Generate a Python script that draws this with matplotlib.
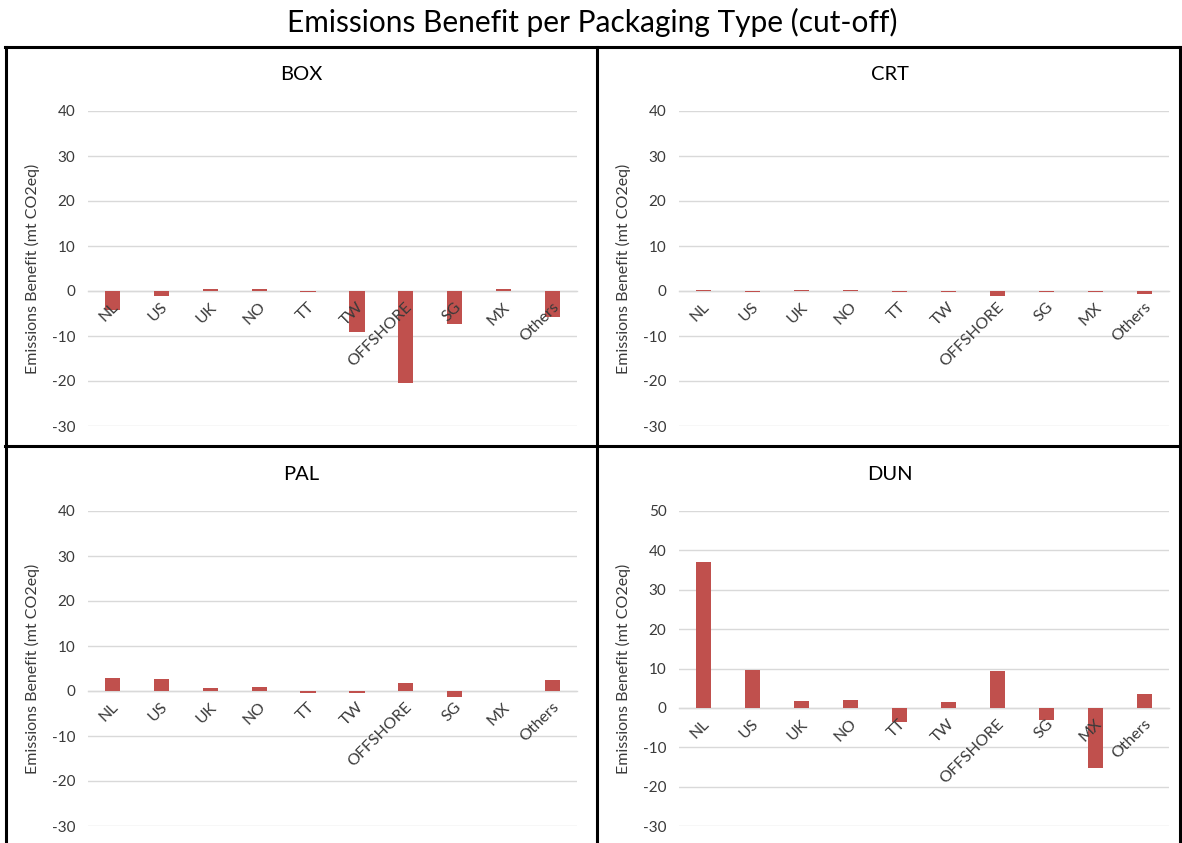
import matplotlib
matplotlib.use('Agg')
import matplotlib.pyplot as plt
from matplotlib.lines import Line2D
from matplotlib.transforms import ScaledTranslation

plt.rcParams['font.family'] = ['Lato', 'DejaVu Sans']

# データ
countries = ['NL', 'US', 'UK', 'NO', 'TT', 'TW', 'OFFSHORE', 'SG', 'MX', 'Others']
box_vals = [-4.2, -1.2, 0.4, 0.4, -0.3, -9.2, -20.4, -7.3, 0.4, -5.7]
crt_vals = [0.3, -0.3, 0.3, 0.3, -0.3, -0.3, -1.0, -0.3, -0.3, -0.6]
pal_vals = [3.0, 2.7, 0.6, 0.9, -0.4, -0.4, 1.8, -1.3, 0.0, 2.5]
dun_vals = [37.0, 9.6, 1.8, 2.0, -3.5, 1.5, 9.3, -3.2, -15.3, 3.5]

panel_names = ['BOX', 'CRT', 'PAL', 'DUN']
panel_vals = [box_vals, crt_vals, pal_vals, dun_vals]
panel_ylims = [(-30, 40), (-30, 40), (-30, 40), (-30, 50)]
panel_ticks = [range(-30, 41, 10), range(-30, 41, 10), range(-30, 41, 10), range(-30, 51, 10)]

W, H = 1182, 843
fig = plt.figure(figsize=(W / 100, H / 100), dpi=100)
fig.patch.set_facecolor('white')

# 軸の位置 (ピクセル -> 図座標)
def px_rect(x0, y0, x1, y1):
    return [x0 / W, 1 - y1 / H, (x1 - x0) / W, (y1 - y0) / H]

rects = [px_rect(88, 111, 577, 426), px_rect(679, 111, 1169, 426),
         px_rect(88, 511, 577, 826), px_rect(679, 511, 1169, 826)]
title_pos = [(301, 75), (890, 75), (301, 475), (890, 475)]

bar_color = '#C0504D'
grid_color = '#D9D9D9'
text_color = '#3A3A3A'

for name, vals, ylim, ticks, rect, tpos in zip(panel_names, panel_vals, panel_ylims,
                                                panel_ticks, rects, title_pos):
    ax = fig.add_axes(rect)
    x = range(len(countries))
    # グリッド線は手書き (棒の下、ラベルは棒の上)
    for t in ticks:
        ax.axhline(t, color=grid_color, linewidth=1.0, zorder=0)
    ax.bar(x, vals, width=0.31, color=bar_color, zorder=2)
    ax.set_xlim(-0.5, len(countries) - 0.5)
    ax.set_ylim(*ylim)
    ax.set_yticks(list(ticks))
    ax.set_yticklabels([str(t) for t in ticks], fontsize=11, color=text_color)
    for s in ['top', 'right', 'left']:
        ax.spines[s].set_visible(False)
    ax.spines['bottom'].set_position(('data', 0))
    ax.spines['bottom'].set_color(grid_color)
    ax.spines['bottom'].set_linewidth(1.0)
    ax.spines['bottom'].set_zorder(1)
    ax.xaxis.set_zorder(5)
    ax.tick_params(axis='y', length=0, pad=9)
    ax.tick_params(axis='x', length=0, pad=10)
    ax.set_xticks(list(x))
    ax.set_xticklabels(countries, fontsize=11.5, color=text_color, rotation=45,
                       ha='right', va='center', rotation_mode='anchor')
    for lbl in ax.get_xticklabels():
        lbl.set_transform(lbl.get_transform() + ScaledTranslation(3 / 72, 0, fig.dpi_scale_trans))
    ax.set_ylabel('Emissions Benefit (mt CO2eq)', fontsize=11.5, color=text_color)
    ax.yaxis.set_label_coords(-0.098, 0.5)
    fig.text(tpos[0] / W, 1 - tpos[1] / H, name, fontsize=14.5, color='black',
             ha='center', va='center')

# タイトル
fig.text(592 / W, 1 - 22 / H, 'Emissions Benefit per Packaging Type (cut-off)',
         fontsize=21.5, color='black', ha='center', va='center')

# 枠線
lw = 2.2
def hline(y, x0, x1):
    fig.add_artist(Line2D([x0 / W, x1 / W], [1 - y / H, 1 - y / H], color='black', linewidth=lw))
def vline(x, y0, y1):
    fig.add_artist(Line2D([x / W, x / W], [1 - y0 / H, 1 - y1 / H], color='black', linewidth=lw))

hline(47, 5, 1181)
hline(446, 5, 1181)
vline(6, 47, 843)
vline(597, 47, 843)
vline(1180, 47, 843)

plt.savefig('out.png', dpi=100, facecolor='white')
print('saved out.png')
